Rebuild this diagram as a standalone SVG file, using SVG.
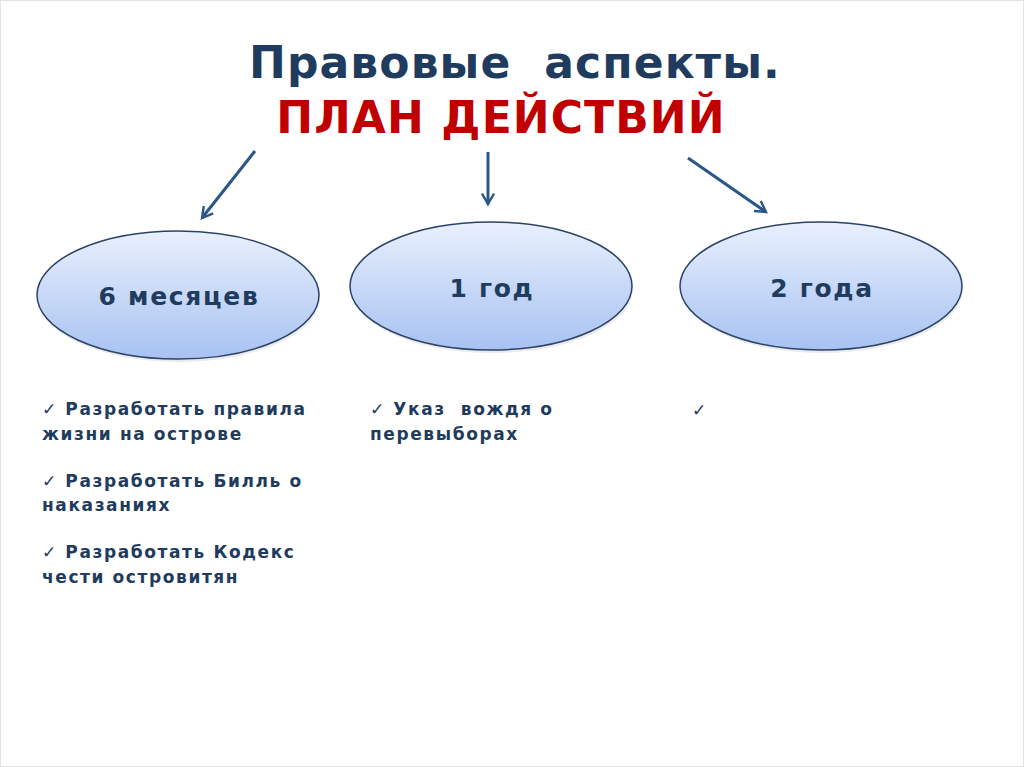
<svg xmlns="http://www.w3.org/2000/svg" width="1024" height="767" viewBox="0 0 1024 767">
<style>
text{white-space:pre}
.t{font-family:"DejaVu Sans","Liberation Sans",sans-serif;font-weight:bold;fill:#1f3b5e}
.b{font-size:17px;letter-spacing:1.6px}
.n{font-size:25px;letter-spacing:1.7px}
.e{fill:url(#g);stroke:#2a4366;stroke-width:1.5}
.s{fill:#000;opacity:0.08}
.c{stroke:#2b568a;stroke-width:3;fill:none;marker-end:url(#ah)}
</style>
<defs>
<linearGradient id="g" x1="0" y1="0" x2="0" y2="1">
<stop offset="0" stop-color="#e9f0fd"/>
<stop offset="1" stop-color="#a7c2f2"/>
</linearGradient>
<marker id="ah" viewBox="0 0 10 10" refX="8" refY="5" markerWidth="5" markerHeight="5" orient="auto" markerUnits="strokeWidth">
<path d="M1,1 L8,5 L1,9" fill="none" stroke="#2b568a" stroke-width="1.6"/>
</marker>
</defs>
<rect x="0.5" y="0.5" width="1023" height="766" fill="#fff" stroke="#e4e4e4"/>
<g id="title">
<text x="515" y="78" text-anchor="middle" class="t" style="font-size:44px;letter-spacing:1.1px" fill="#243f60">Правовые  аспекты.</text>
<text x="501" y="133" text-anchor="middle" style="font-family:'DejaVu Sans',sans-serif;font-weight:bold;font-size:44px;letter-spacing:1.1px;fill:#c00000">ПЛАН ДЕЙСТВИЙ</text>
</g>
<g id="connectors">
<line class="c" x1="255" y1="151" x2="202" y2="218"/>
<line class="c" x1="488" y1="152" x2="488" y2="204"/>
<line class="c" x1="688" y1="158" x2="766" y2="212"/>
</g>
<g id="node-6m">
<ellipse class="s" cx="179" cy="298" rx="141" ry="64"/>
<ellipse class="e" cx="178" cy="295" rx="141" ry="64"/>
<text class="t n" x="179" y="305" text-anchor="middle">6 месяцев</text>
</g>
<g id="node-1y">
<ellipse class="s" cx="492" cy="289" rx="141" ry="64"/>
<ellipse class="e" cx="491" cy="286" rx="141" ry="64"/>
<text class="t n" x="492" y="297" text-anchor="middle">1 год</text>
</g>
<g id="node-2y">
<ellipse class="s" cx="822" cy="289" rx="141" ry="64"/>
<ellipse class="e" cx="821" cy="286" rx="141" ry="64"/>
<text class="t n" x="822" y="297" text-anchor="middle">2 года</text>
</g>
<g id="list-6m" class="t b">
<text x="42" y="415">✓ Разработать правила</text>
<text x="42" y="440">жизни на острове</text>
<text x="42" y="487">✓ Разработать Билль о</text>
<text x="42" y="511">наказаниях</text>
<text x="42" y="558">✓ Разработать Кодекс</text>
<text x="42" y="583">чести островитян</text>
</g>
<g id="list-1y" class="t b">
<text x="370" y="415">✓ Указ  вождя о</text>
<text x="370" y="440">перевыборах</text>
</g>
<g id="list-2y" class="t b">
<text x="692" y="416">✓</text>
</g>
</svg>
